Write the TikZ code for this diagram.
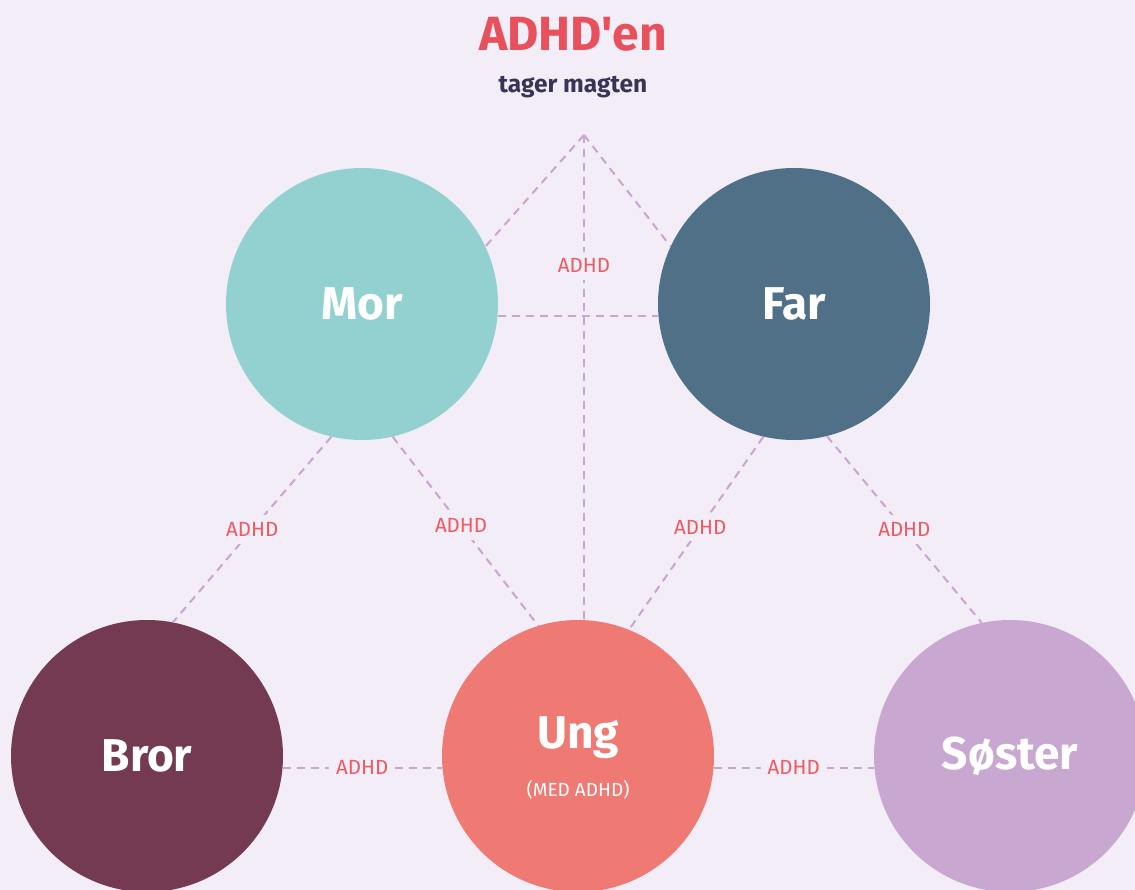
\documentclass[tikz,border=0pt]{standalone}
\usepackage{fontspec}
\setmainfont{Fira Sans}
\newfontfamily\plainfont{Fira Sans}
\definecolor{bgc}{HTML}{F3EDF7}
\definecolor{morc}{HTML}{93D1D0}
\definecolor{farc}{HTML}{4F7086}
\definecolor{brorc}{HTML}{733A51}
\definecolor{ungc}{HTML}{EF7A73}
\definecolor{sosc}{HTML}{C8A7D0}
\definecolor{dashc}{HTML}{C9A5D0}
\definecolor{lblc}{HTML}{EE5A62}
\definecolor{titlec}{HTML}{E8505B}
\definecolor{subc}{HTML}{3B3356}
\tikzset{
  person/.style={circle, minimum size=272pt, inner sep=0pt, text=white, font=\fontsize{46}{50}\selectfont\bfseries},
  conn/.style={draw=dashc, line width=2pt, dash pattern=on 8pt off 6pt},
  lbl/.style={fill=bgc, text=lblc, inner sep=7pt, font=\fontsize{20.5}{24}\selectfont}
}
\begin{document}
\begin{tikzpicture}[x=1pt,y=-1pt]
\useasboundingbox (0,0) rectangle (1135,890);
\clip (0,0) rectangle (1135,890);
\fill[bgc] (0,0) rectangle (1135,890);

\node[text=titlec, font=\plainfont\fontsize{48}{52}\selectfont\bfseries] (title) at (573,34) {ADHD'en};
\node[text=subc, font=\fontsize{24.5}{28}\selectfont\bfseries] (sub) at (573,87) {tager magten};

\node[person, fill=morc] (Mor) at (362,304) {Mor};
\node[person, fill=farc] (Far) at (794,304) {Far};
\node[person, fill=brorc] (Bror) at (147,756) {Bror};
\node[person, fill=ungc] (Ung) at (578,756) {};
\node[person, fill=sosc] (Sos) at (1010,756) {Søster};
\node[text=white, font=\fontsize{46}{50}\selectfont\bfseries] (ungname) at (578,738) {Ung};
\node[text=white, font=\fontsize{19}{22}\selectfont] (ungsub) at (578,790) {(MED ADHD)};

\coordinate (apex) at (584,135);
\draw[conn] (apex) -- (Mor.25);
\draw[conn] (apex) -- (Far.155);
\draw[conn] (apex) -- node[lbl, pos=0.27] {ADHD} (apex |- Ung.north);
\coordinate (mf) at (Mor.-5.2);
\draw[conn] (mf) -- (mf -| Far.west);
\draw[conn] (Mor.-103) -- node[lbl, pos=0.5] {ADHD} (Bror.79);
\draw[conn] (Mor.-77.7) -- node[lbl, pos=0.47] {ADHD} (Ung.107.8);
\draw[conn] (Far.-103) -- node[lbl, pos=0.47] {ADHD} (Ung.68);
\draw[conn] (Far.-76) -- node[lbl, pos=0.5] {ADHD} (Sos.102);
\coordinate (bu) at (Bror.-5);
\draw[conn] (bu) -- node[lbl] {ADHD} (bu -| Ung.west);
\coordinate (us) at (Ung.-5);
\draw[conn] (us) -- node[lbl] {ADHD} (us -| Sos.west);
\end{tikzpicture}
\end{document}
